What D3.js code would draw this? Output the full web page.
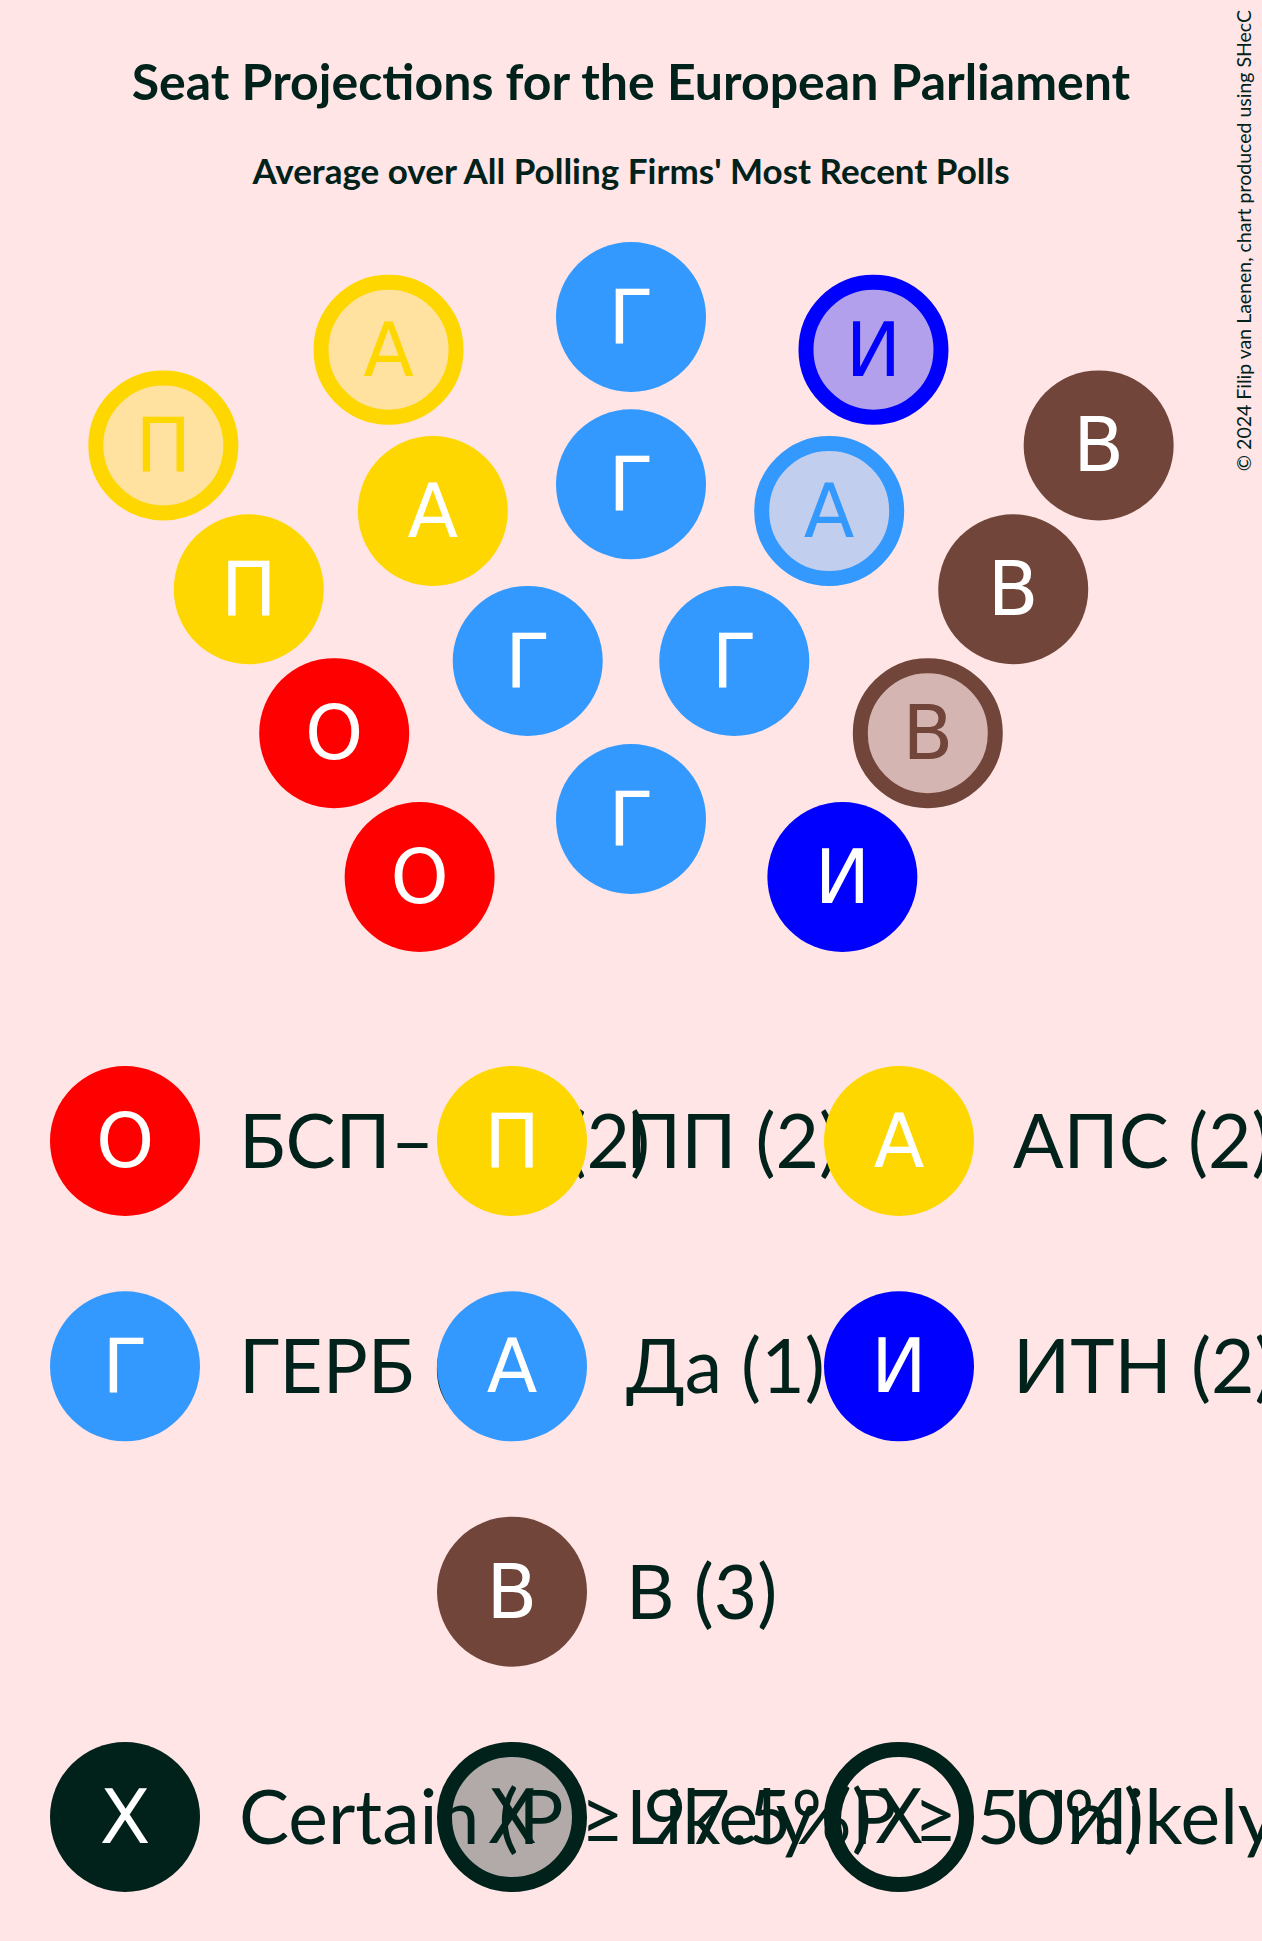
<!DOCTYPE html>
<html>
<head>
<meta charset="utf-8">
<script src="https://cdn.jsdelivr.net/npm/d3@7"></script>
<style>
  html, body { margin: 0; padding: 0; background: #FFE5E5; }
  svg { display: block; }
</style>
</head>
<body>
<div id="chart"></div>
<script>
// ---- data ----
const partyNames   = ["БСП–ОЛ", "ПП", "АПС", "ГЕРБ", "Да", "ИТН", "В"];
const partyLetters = ["О", "П", "А", "Г", "А", "И", "В"];
const partyColors  = ["#FF0000", "#FFD700", "#FFD700", "#3399FF", "#3399FF", "#0000FF", "#714539"];
const certainSeats = [2, 1, 1, 5, 0, 1, 2];
const likelySeats  = [0, 1, 1, 0, 1, 1, 1];
const ringSeats    = [3, 4, 5, 5];           // inner ring to outer ring
const certaintyLabels = ["Certain (P ≥ 97.5%)", "Likely (P ≥ 50%)", "Unlikely"];
const certaintyKinds  = ["certain", "likely", "unlikely"];
const titleText    = "Seat Projections for the European Parliament";
const subtitleText = "Average over All Polling Firms' Most Recent Polls";
const creditText   = "© 2024 Filip van Laenen, chart produced using SHecC";

// ---- setup ----
const W = 1262, H = 1941;
const BG = "#FFE5E5", INK = "#00221A";
const R = 75, STROKE = 15;
const svg = d3.select("#chart").append("svg").attr("width", W).attr("height", H);
svg.append("rect").attr("width", W).attr("height", H).attr("fill", BG);

svg.append("text").attr("x", W / 2).attr("y", 100).attr("text-anchor", "middle")
  .attr("font-family", "Lato").attr("font-weight", 700).attr("font-size", 50)
  .attr("fill", INK).text(titleText);
svg.append("text").attr("x", W / 2).attr("y", 184).attr("text-anchor", "middle")
  .attr("font-family", "Lato").attr("font-weight", 700).attr("font-size", 35)
  .attr("fill", INK).text(subtitleText);
svg.append("text").attr("transform", "translate(1251,10) rotate(-90)")
  .attr("text-anchor", "end").attr("font-family", "Lato").attr("font-size", 19.5)
  .attr("fill", INK).text(creditText);

// ---- hemicycle layout ----
const cx = W / 2, cy = 1233;
const radius = d3.scaleLinear().domain([0, ringSeats.length - 1]).range([414, 916]);
const maxA = 30.7 * Math.PI / 180;
let positions = [];
ringSeats.forEach((n, ri) => {
  const ang = d3.scaleLinear().domain([0, n - 1]).range([-maxA, maxA]);
  d3.range(n).forEach(k => {
    const a = ang(k), r = radius(ri);
    positions.push({a: a, r: r, x: cx + r * Math.sin(a), y: cy - r * Math.cos(a)});
  });
});
positions.sort((p, q) => (Math.round(p.a * 1e6) - Math.round(q.a * 1e6)) || (p.r - q.r));

// seats per party, likely seats toward the middle
const total = d3.sum(certainSeats) + d3.sum(likelySeats);
let seats = [], idx = 0;
partyNames.forEach((name, i) => {
  const start = idx;
  const cert = d3.range(certainSeats[i]).map(() => false);
  const lik = d3.range(likelySeats[i]).map(() => true);
  const list = (start >= total / 2) ? lik.concat(cert) : cert.concat(lik);
  list.forEach(l => { seats.push({party: i, likely: l}); idx++; });
});
seats.forEach((s, i) => Object.assign(s, positions[i]));

function drawSeat(g, x, y, color, letter, kind) {
  if (kind === "certain") {
    g.append("circle").attr("cx", x).attr("cy", y).attr("r", R).attr("fill", color);
  } else if (kind === "likely") {
    g.append("circle").attr("cx", x).attr("cy", y).attr("r", R - STROKE / 2)
      .attr("fill", color).attr("fill-opacity", 0.3)
      .attr("stroke", color).attr("stroke-width", STROKE);
  } else {
    g.append("circle").attr("cx", x).attr("cy", y).attr("r", R - STROKE / 2)
      .attr("fill", "none").attr("stroke", color).attr("stroke-width", STROKE);
  }
  g.append("text").attr("x", x).attr("y", y + 26).attr("text-anchor", "middle")
    .attr("font-family", "DejaVu Sans").attr("font-size", 74)
    .attr("fill", kind === "certain" ? "#FFFFFF" : color).text(letter);
}

const seatG = svg.append("g");
seats.forEach(s => drawSeat(seatG.append("g"), s.x, s.y, partyColors[s.party],
  partyLetters[s.party], s.likely ? "likely" : "certain"));

// ---- legend ----
const cols = 3;
const colX = d3.scaleLinear().domain([0, cols - 1]).range([125, 899]);
const rowY = d3.scaleLinear().domain([0, 3]).range([1141, 1817]);
const nRows = Math.ceil(partyNames.length / cols);
const legG = svg.append("g");
partyNames.forEach((name, i) => {
  const row = Math.floor(i / cols);
  const inRow = Math.min(cols, partyNames.length - row * cols);
  const col = (i % cols) + Math.floor((cols - inRow) / 2);
  const x = colX(col), y = rowY(row);
  const g = legG.append("g");
  drawSeat(g, x, y, partyColors[i], partyLetters[i], "certain");
  g.append("text").attr("x", x + 114).attr("y", y + 27)
    .attr("font-family", "Lato").attr("font-size", 75).attr("fill", INK)
    .text(name + " (" + (certainSeats[i] + likelySeats[i]) + ")");
});
const certG = svg.append("g");
certaintyKinds.forEach((k, i) => drawSeat(certG.append("g"), colX(i), rowY(nRows), INK, "X", k));
certaintyLabels.forEach((t, i) => {
  certG.append("text").attr("x", colX(i) + 114).attr("y", rowY(nRows) + 27)
    .attr("font-family", "Lato").attr("font-size", 75).attr("fill", INK).text(t);
});
</script>
</body>
</html>
